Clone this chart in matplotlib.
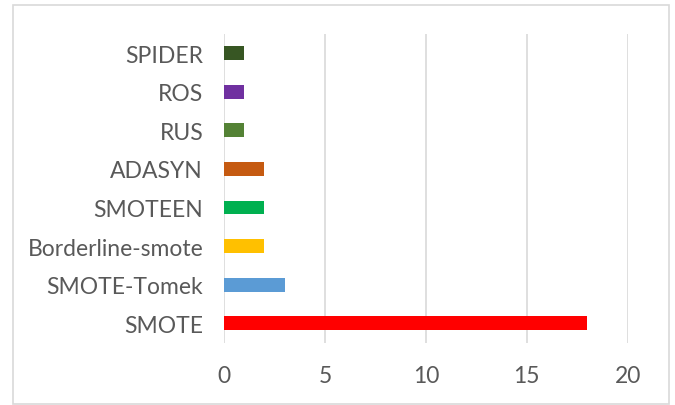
import matplotlib
matplotlib.use("Agg")
import matplotlib.pyplot as plt
from matplotlib.patches import Rectangle

categories = ["SMOTE", "SMOTE-Tomek", "Borderline-smote", "SMOTEEN", "ADASYN", "RUS", "ROS", "SPIDER"]
values = [18, 3, 2, 2, 2, 1, 1, 1]
colors = ["#FF0000", "#5B9BD5", "#FFC000", "#00B050", "#C55A11", "#548235", "#7030A0", "#375623"]
xticks = [0, 5, 10, 15, 20]

plt.rcParams['font.family'] = ['Lato', 'DejaVu Sans']
fig = plt.figure(figsize=(6.75, 4.06), dpi=100)
ax = fig.add_axes([224/675, (406-343.5)/406, (627.7-224)/675, (343.5-35)/406])

ypos = list(range(len(categories)))
ax.barh(ypos, values, height=0.36, color=colors, zorder=3)
ax.set_yticks(ypos)
ax.set_yticklabels(categories)
ax.set_xticks(xticks)
ax.set_xlim(0, 20)
ax.set_ylim(-0.5, len(categories) - 0.5)
ax.grid(axis='x', color='#D9D9D9', linewidth=1.2, zorder=0)
for s in ax.spines.values():
    s.set_visible(False)
ax.tick_params(axis='both', length=0, labelsize=16.5, labelcolor='#595959')
ax.tick_params(axis='y', pad=15)
ax.tick_params(axis='x', pad=16)

fig.patches.append(Rectangle((13/675, 1/406), (669-13)/675, (400-1)/406, transform=fig.transFigure,
                             fill=False, edgecolor='#D9D9D9', linewidth=1.2))
fig.savefig("out.png", dpi=100)
